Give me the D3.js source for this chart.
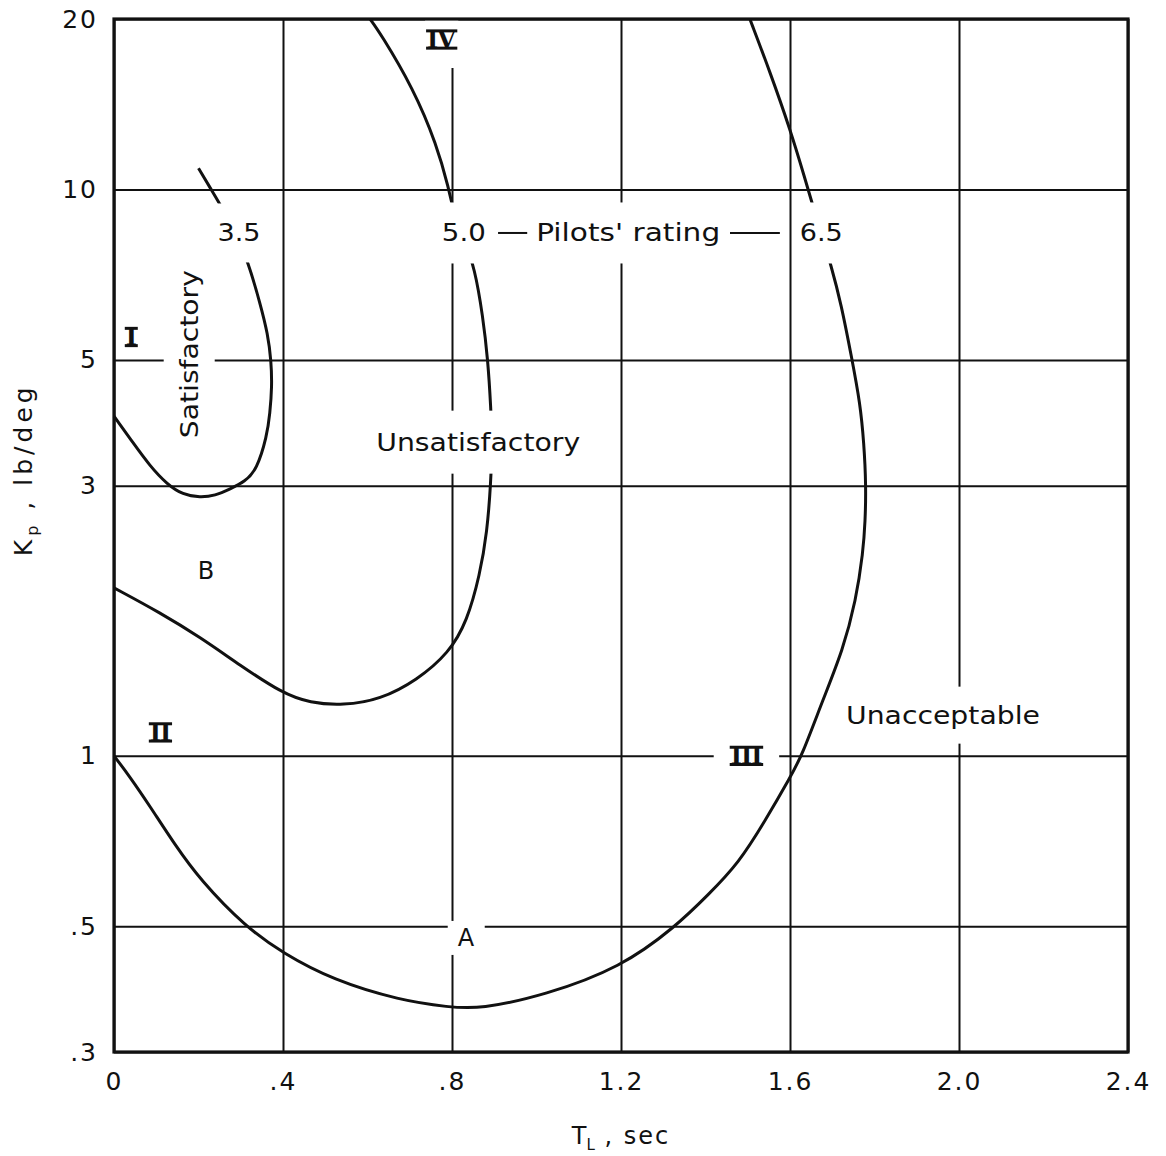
<!DOCTYPE html>
<html>
<head>
<meta charset="utf-8">
<script src="https://cdn.jsdelivr.net/npm/d3@7"></script>
<style>
body{margin:0;background:#fff;}
text{fill:#111;}
.grid line{stroke:#111;stroke-width:2;}
.grid path{display:none;}
</style>
</head>
<body>
<div id="chart"></div>
<script>
var width = 1166, height = 1156;
var margin = {top:19,bottom:104,left:114,right:38};
var w = width - margin.left - margin.right;
var h = height - margin.top - margin.bottom;
var sans = "DejaVu Sans, sans-serif";

// axes
var xTicks = [0,0.4,0.8,1.2,1.6,2.0,2.4];
var xTickLabels = ["0",".4",".8","1.2","1.6","2.0","2.4"];
var yTicks = [0.3,0.5,1,3,5,10,20];
var yTickLabels = [".3",".5","1","3","5","10","20"];

// pilots' rating boundaries, [T_L sec, K_p lb/deg]
var rating35 = [[0.20,10.9],[0.23,10.0],[0.26,9.18],[0.29,8.28],[0.317,7.47],[0.346,6.29],[0.364,5.56],
  [0.372,4.98],[0.374,4.49],[0.369,4.02],[0.362,3.67],[0.338,3.20],[0.31,3.05],[0.275,2.96],[0.239,2.88],
  [0.204,2.86],[0.163,2.89],[0.125,3.02],[0.085,3.25],[0.045,3.57],[0,3.98]];
var rating50 = [[0.606,20],[0.63,18.9],[0.708,15.1],[0.764,12.0],[0.793,10.0],[0.802,9.21],[0.828,8.21],
  [0.854,7.26],[0.873,5.97],[0.885,5.0],[0.892,4.11],[0.895,3.57],[0.892,3.04],[0.883,2.48],[0.866,2.09],
  [0.836,1.73],[0.793,1.52],[0.717,1.36],[0.63,1.257],[0.542,1.227],[0.464,1.24],[0.398,1.29],[0.298,1.446],
  [0.204,1.62],[0.109,1.79],[0,1.98]];
var rating65 = [[1.505,20],[1.553,16.1],[1.600,12.8],[1.638,10.3],[1.654,9.36],[1.676,8.28],[1.697,7.35],
  [1.721,6.29],[1.747,5.0],[1.766,4.19],[1.775,3.57],[1.780,3.0],[1.778,2.59],[1.773,2.29],[1.756,1.88],
  [1.725,1.536],[1.678,1.257],[1.628,1.0],[1.602,0.921],[1.543,0.772],[1.479,0.647],[1.406,0.568],[1.330,0.5],
  [1.2,0.423],[1.02,0.378],[0.866,0.357],[0.793,0.360],[0.677,0.370],[0.518,0.402],[0.4,0.448],[0.31,0.5],
  [0.204,0.604],[0.144,0.697],[0.085,0.815],[0.038,0.918],[0,1.0]];

var x = d3.scaleLinear().domain([0,2.4]).range([0,w]);
var y = d3.scaleLog().domain([0.3,20]).range([h,0]);

var svg = d3.select("#chart")
  .append("svg")
  .attr("width",width)
  .attr("height",height)
  .append("g")
  .attr("transform","translate(" + margin.left + "," + margin.top + ")");

//grid line
svg.append("g")
  .attr("class","grid")
  .attr("transform","translate(0," + h + ")")
  .call(d3.axisBottom(x).tickValues(xTicks).tickSize(-h).tickFormat(""));
svg.append("g")
  .attr("class","grid")
  .call(d3.axisLeft(y).tickValues(yTicks).tickSize(-w).tickFormat(""));

//tick labels
var xAxis = svg.append("g")
  .attr("transform","translate(0," + h + ")")
  .call(d3.axisBottom(x).tickValues(xTicks).tickSize(0).tickPadding(20)
    .tickFormat((d,i) => xTickLabels[i]));
var yAxis = svg.append("g")
  .call(d3.axisLeft(y).tickValues(yTicks).tickSize(0).tickPadding(16)
    .tickFormat((d,i) => yTickLabels[i]));
[xAxis,yAxis].forEach(a => {
  a.select(".domain").remove();
  a.selectAll("text")
    .style("font-family",sans)
    .style("font-size","25px")
    .attr("letter-spacing",2)
    .attr("fill","#111");
});

//curves
var line = d3.line()
  .x(d => x(d[0]))
  .y(d => y(d[1]))
  .curve(d3.curveBasis);
svg.selectAll(".rating")
  .data([rating35,rating50,rating65])
  .enter()
  .append("path")
  .attr("class","rating")
  .attr("d",line)
  .attr("fill","none")
  .attr("stroke","#111")
  .attr("stroke-width",3);

var maskLayer = svg.append("g");
svg.append("rect")
  .attr("width",w)
  .attr("height",h)
  .attr("fill","none")
  .attr("stroke","#111")
  .attr("stroke-width",3.2);
var labelLayer = svg.append("g");

// label, position in data units, white gap padding
function label(txt,t,k,opt){
  opt = opt || {};
  var size = opt.size || 25;
  var el = labelLayer.append("text")
    .attr("x",x(t))
    .attr("y",y(k))
    .attr("text-anchor","middle")
    .attr("dominant-baseline","central")
    .style("font-family",sans)
    .style("font-size",size + "px")
    .text(txt);
  if (opt.len) el.attr("textLength",opt.len).attr("lengthAdjust","spacingAndGlyphs");
  if (opt.serif) {
    // roman numerals with bars across top and bottom
    el.style("font-family","DejaVu Serif, serif").style("font-weight","bold").attr("letter-spacing",-1);
    var bb = el.node().getBBox();
    labelLayer.selectAll(null)
      .data([-0.36,0.36])
      .enter()
      .append("line")
      .attr("x1",bb.x - 1).attr("x2",bb.x + bb.width + 1)
      .attr("y1",d => y(k) + d*size).attr("y2",d => y(k) + d*size)
      .attr("stroke","#111").attr("stroke-width",3);
  }
  if (opt.rotate) el.attr("transform","rotate(-90," + x(t) + "," + y(k) + ")");
  if (opt.gap) {
    var b = el.node().getBBox();
    var px = opt.gap[0], py = opt.gap[1];
    var r = opt.rotate
      ? {x:x(t)-b.height/2-px, y:y(k)-b.width/2-py, w:b.height+2*px, h:b.width+2*py}
      : {x:b.x-px, y:b.y-py, w:b.width+2*px, h:b.height+2*py};
    maskLayer.append("rect")
      .attr("x",r.x).attr("y",r.y)
      .attr("width",r.w).attr("height",r.h)
      .attr("fill","#fff");
  }
  return el;
}

label("3.5",0.296,8.38,{len:43,gap:[3,15]});
label("5.0",0.828,8.38,{len:44,gap:[6,16]});
label("Pilots' rating",1.217,8.38,{len:184,gap:[48,16]});
label("6.5",1.674,8.38,{len:43,gap:[4,16]});
labelLayer.selectAll(".dash")
  .data([[0.909,0.978],[1.458,1.576]])
  .enter()
  .append("line")
  .attr("class","dash")
  .attr("x1",d => x(d[0])).attr("x2",d => x(d[1]))
  .attr("y1",y(8.38)).attr("y2",y(8.38))
  .attr("stroke","#111").attr("stroke-width",2);

label("Satisfactory",0.178,5.12,{len:168,rotate:true,gap:[11,0]});
label("Unsatisfactory",0.862,3.58,{len:204,gap:[4,17]});
label("Unacceptable",1.962,1.18,{len:194,gap:[4,14]});
label("A",0.833,0.477,{size:24,gap:[10,3]});
label("B",0.218,2.12,{size:24});

label("I",0.040,5.49,{size:24,serif:true});
label("II",0.109,1.10,{size:24,serif:true});
label("III",1.496,1.0,{size:24,serif:true,gap:[17,0]});
label("IV",0.774,18.4,{size:24,serif:true,gap:[2,14]});

//axis titles
var xt = svg.append("text")
  .attr("x",x(1.2))
  .attr("y",h + 92)
  .attr("text-anchor","middle")
  .style("font-family",sans)
  .style("font-size","24px");
xt.append("tspan").text("T");
xt.append("tspan").style("font-size","15px").attr("dy",6).text("L");
xt.append("tspan").attr("dy",-6).attr("letter-spacing",2).text(" , sec");

var yt = svg.append("text")
  .attr("transform","translate(" + (32 - margin.left) + "," + (y(3.2)) + ") rotate(-90)")
  .attr("text-anchor","middle")
  .style("font-family",sans)
  .style("font-size","25px")
  .attr("letter-spacing",4);
yt.append("tspan").text("K");
yt.append("tspan").style("font-size","16px").attr("dy",6).text("p");
yt.append("tspan").attr("dy",-6).text(" , lb/deg");
</script>
</body>
</html>
